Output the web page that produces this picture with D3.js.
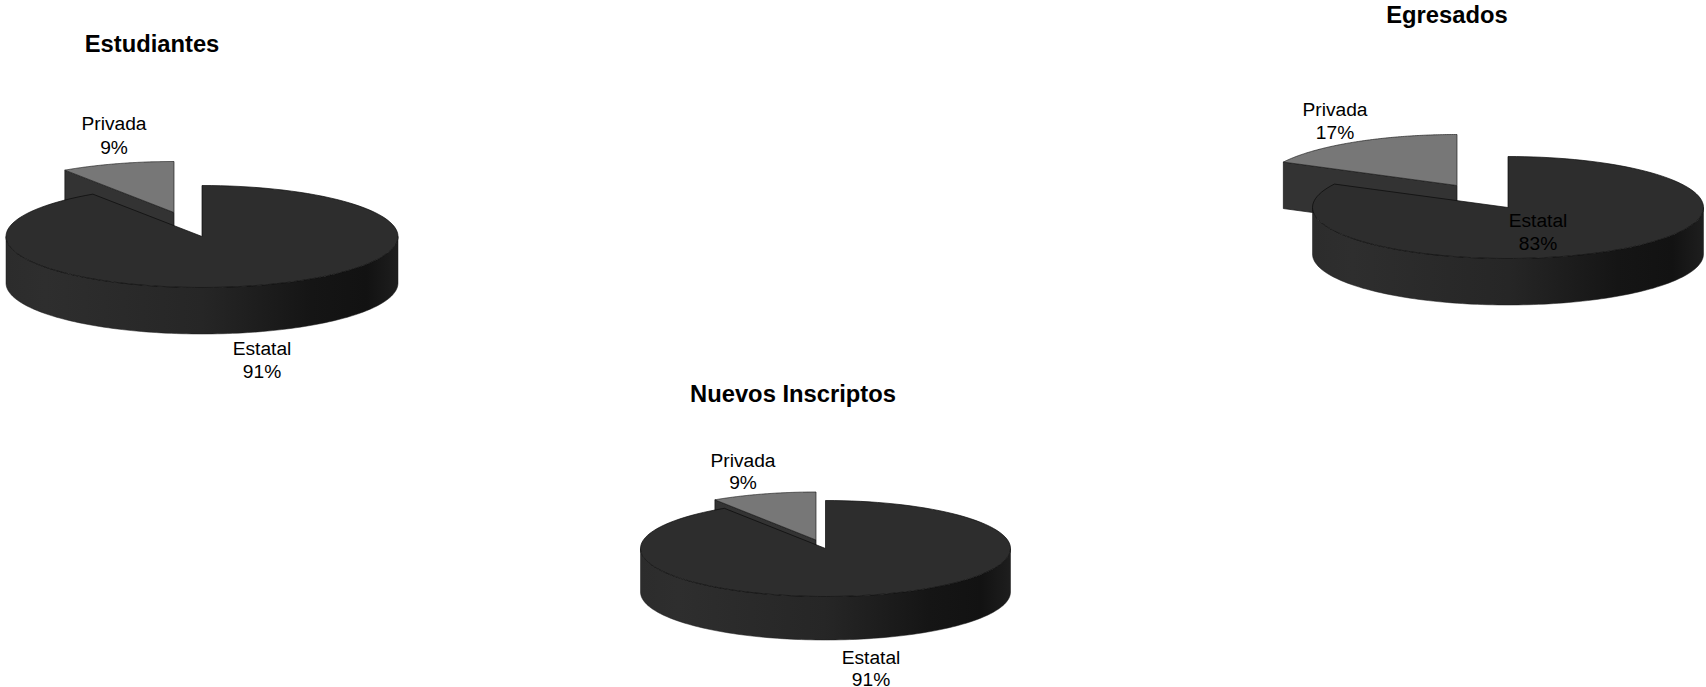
<!DOCTYPE html>
<html><head><meta charset="utf-8">
<style>html,body{margin:0;padding:0;background:#fff}svg{display:block}text{font-family:"Liberation Sans",Arial,sans-serif;fill:#000}</style>
<script src="https://cdn.jsdelivr.net/npm/d3@7/dist/d3.min.js"></script>
</head><body><svg id="c" width="1706" height="687"></svg>
<script>
const categories = ["Estatal", "Privada"];
const titles = ["Estudiantes", "Egresados", "Nuevos Inscriptos"];
const estudiantes = [90.6, 9.4];
const egresados = [82.6, 17.4];
const nuevosInscriptos = [90.8, 9.2];

const layouts = [
 {title:titles[0],values:estudiantes,cx:202,cy:236.5,rx:196,ry:51,depth:46.5,dx:-28,dy:-24,tx:152,ty:52,gap:23.5,lab:[[262,354.5],[114,130]]},
 {title:titles[1],values:egresados,cx:1508,cy:207.5,rx:195.5,ry:51,depth:46.5,dx:-51,dy:-22,tx:1447,ty:23,gap:23,lab:[[1538,227],[1335,116]]},
 {title:titles[2],values:nuevosInscriptos,cx:825.5,cy:548.5,rx:185,ry:48,depth:43.5,dx:-9.5,dy:-8.5,tx:793,ty:402,gap:22.5,lab:[[871,663.5],[743,466.5]]}
];
const svg = d3.select("#c");
const defs = svg.append("defs");
const g = defs.append("linearGradient").attr("id","side").attr("x1",0).attr("x2",1).attr("y1",0).attr("y2",0);
[[0,"#2c2c2c"],[.1,"#2e2e2e"],[.5,"#262626"],[.78,"#151515"],[.92,"#121212"],[1,"#1e1e1e"]].forEach(s=>g.append("stop").attr("offset",s[0]).attr("stop-color",s[1]));
const pie = d3.pie().sort(null).startAngle(0).endAngle(2*Math.PI);
const line = d3.line();
const pct = d3.format(".0f");
const arcPts=(cx,cy,rx,ry,a0,a1)=>d3.range(0,121).map(i=>{const a=a0+(a1-a0)*i/120;return [cx+rx*Math.sin(a),cy-ry*Math.cos(a)];});

layouts.forEach(L=>{
  const [main,priv]=pie(L.values);
  const gg=svg.append("g");
  const px=L.cx+L.dx, py=L.cy+L.dy;
  const pa=arcPts(px,py,L.rx,L.ry,priv.startAngle,priv.endAngle);
  const tip=pa[0];
  gg.append("path").attr("d",line([[px,py],tip,[tip[0],tip[1]+L.depth],[px,py+L.depth]])+"Z").attr("fill","#333").attr("stroke","#111").attr("stroke-width",.7);
  gg.append("path").attr("d",line([[px,py],...pa])+"Z").attr("fill","#777").attr("stroke","#222").attr("stroke-width",.7);
  const front=arcPts(L.cx,L.cy,L.rx,L.ry,Math.PI/2,3*Math.PI/2);
  const bottom=front.map(p=>[p[0],p[1]+L.depth]).reverse();
  gg.append("path").attr("d",line([...front,...bottom])+"Z").attr("fill","url(#side)").attr("stroke","#1a1a1a").attr("stroke-width",.5);
  gg.append("path").attr("d",line([[L.cx,L.cy],...arcPts(L.cx,L.cy,L.rx,L.ry,main.startAngle,main.endAngle)])+"Z").attr("fill","#2d2d2d").attr("stroke","#0a0a0a").attr("stroke-width",.7);
  svg.append("text").attr("x",L.tx).attr("y",L.ty).attr("text-anchor","middle").attr("font-size",23.75).attr("font-weight","bold").text(L.title);
  [main,priv].forEach((d,i)=>{
    const t=svg.append("text").attr("text-anchor","middle").attr("font-size",19.2);
    t.append("tspan").attr("x",L.lab[i][0]).attr("y",L.lab[i][1]).text(categories[i]);
    t.append("tspan").attr("x",L.lab[i][0]).attr("y",L.lab[i][1]+L.gap).text(pct(d.data)+"%");
  });
});
</script></body></html>
